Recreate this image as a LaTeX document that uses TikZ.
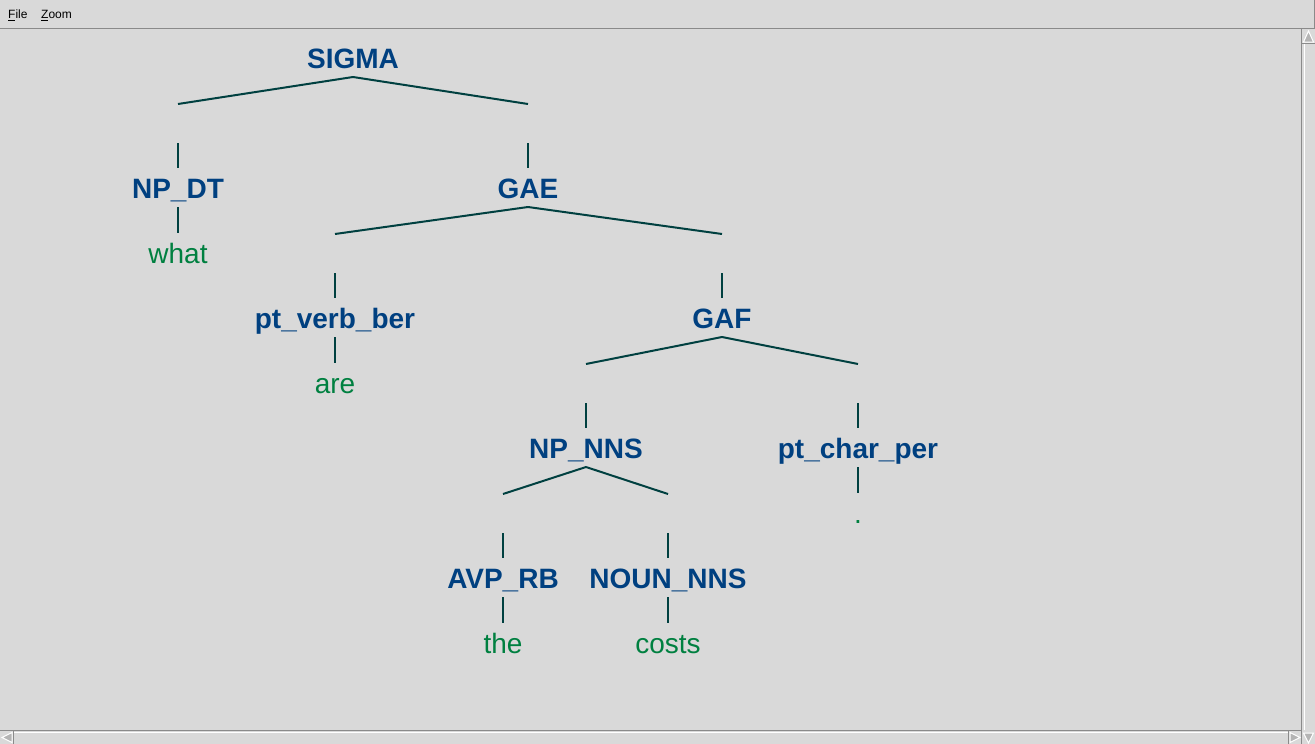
\documentclass[tikz,border=0pt]{standalone}
\usepackage{fontspec}
\setmainfont{Liberation Sans}
\usetikzlibrary{calc}
\definecolor{bg}{HTML}{D9D9D9}
\definecolor{nodec}{HTML}{004080}
\definecolor{leafc}{HTML}{008040}
\definecolor{linec}{HTML}{004040}
\definecolor{chromeline}{HTML}{8A8A8A}
\definecolor{arrowfill}{HTML}{B4B4B4}
\newcommand\treebranch[2]{%
  \draw[edge] ($(#1.base)+(0,9)$) -- ($(#2.base)+(0,-94)$);
  \draw[edge] ($(#2.base)+(0,-55)$) -- ($(#2.base)+(0,-30)$);}
\newcommand\treeleaf[2]{%
  \draw[edge] ($(#1.base)+(0,9)$) -- ($(#2.base)+(0,-30)$);}
\begin{document}
\begin{tikzpicture}[x=1pt,y=-1pt,
  lab/.style={anchor=base,inner sep=0pt,text=nodec,font=\fontsize{28}{34}\selectfont\bfseries},
  leaf/.style={anchor=base,inner sep=0pt,text=leafc,font=\fontsize{28}{34}\selectfont},
  edge/.style={draw=linec,line width=2pt},
  menu/.style={anchor=base west,inner sep=0pt,font=\fontsize{12}{14}\selectfont,text=black},
  chrome/.style={draw=chromeline,line width=1pt},
  hilite/.style={draw=white,line width=1pt},
  sarrow/.style={fill=arrowfill,draw=white,line width=1pt},
]
\fill[bg] (0,0) rectangle (1315,744);
\useasboundingbox (0,0) rectangle (1315,744);
% window chrome
\node[menu] (file) at (8,18) {File};
\node[menu] (zoom) at (41,18) {Zoom};
\draw[black,line width=0.8pt] (8,20.5) -- (14.5,20.5);
\draw[black,line width=0.8pt] (41,20.5) -- (48,20.5);
\draw[chrome] (0,28.5) -- (1315,28.5);
\draw[chrome] (1314.5,0) -- (1314.5,28.5);
\draw[chrome] (1301.5,28.5) -- (1301.5,744);
\draw[chrome] (0,730.5) -- (1301.5,730.5);
\draw[hilite] (1304.5,44) -- (1304.5,730);
\draw[hilite] (14,732.5) -- (1288,732.5);
\draw[chrome] (13.5,731) -- (13.5,744);
\draw[chrome] (1288.5,731) -- (1288.5,744);
\draw[chrome] (1302,43.5) -- (1315,43.5);
\draw[sarrow] (1308.5,31) -- (1303.5,42) -- (1313.5,42) -- cycle;
\draw[sarrow] (2,737.5) -- (12,732.5) -- (12,742.5) -- cycle;
\draw[sarrow] (1300,737.5) -- (1290,732.5) -- (1290,742.5) -- cycle;
\draw[sarrow] (1308.5,743) -- (1303.5,733) -- (1313.5,733) -- cycle;
% tree nodes
\node[lab] (S) at (353,68) {SIGMA};
\node[lab] (NPDT) at (178,198) {NP\_DT};
\node[leaf] (what) at (178,263) {what};
\node[lab] (GAE) at (528,198) {GAE};
\node[lab] (PVB) at (335,328) {pt\_verb\_ber};
\node[leaf] (are) at (335,393) {are};
\node[lab] (GAF) at (722,328) {GAF};
\node[lab] (NPNNS) at (586,458) {NP\_NNS};
\node[lab] (PCP) at (858,458) {pt\_char\_per};
\node[leaf] (dot) at (858,523) {.};
\node[lab] (AVP) at (503,588) {AVP\_RB};
\node[leaf] (the) at (503,653) {the};
\node[lab] (NOUN) at (668,588) {NOUN\_NNS};
\node[leaf] (costs) at (668,653) {costs};
% connectors
\treebranch{S}{NPDT}
\treebranch{S}{GAE}
\treeleaf{NPDT}{what}
\treebranch{GAE}{PVB}
\treebranch{GAE}{GAF}
\treeleaf{PVB}{are}
\treebranch{GAF}{NPNNS}
\treebranch{GAF}{PCP}
\treeleaf{PCP}{dot}
\treebranch{NPNNS}{AVP}
\treebranch{NPNNS}{NOUN}
\treeleaf{AVP}{the}
\treeleaf{NOUN}{costs}
\end{tikzpicture}
\end{document}
